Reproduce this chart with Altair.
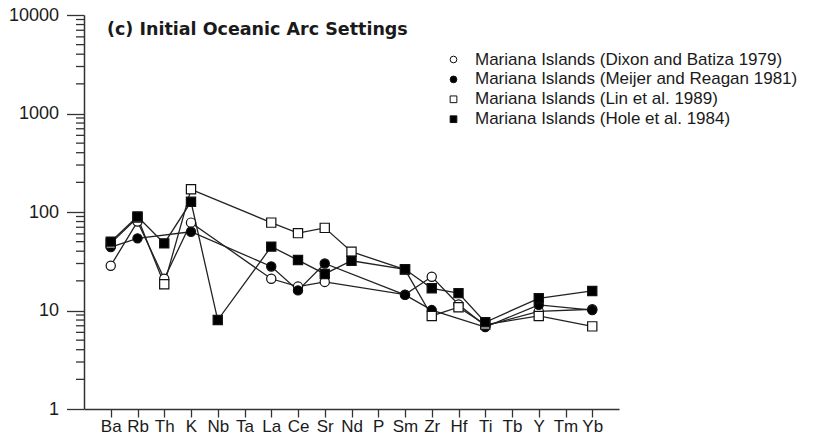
import altair as alt
import pandas as pd

# Trace elements in plotting order (incompatible -> compatible)
elements = ["Ba", "Rb", "Th", "K", "Nb", "Ta", "La", "Ce", "Sr", "Nd",
            "P", "Sm", "Zr", "Hf", "Ti", "Tb", "Y", "Tm", "Yb"]

series_names = [
    "Mariana Islands (Dixon and Batiza 1979)",
    "Mariana Islands (Meijer and Reagan 1981)",
    "Mariana Islands (Lin et al. 1989)",
    "Mariana Islands (Hole et al. 1984)",
]
series_shapes = ["circle", "circle", "square", "square"]
series_fills = ["white", "black", "white", "black"]

N = None
# MORB-normalised abundances (None = not analysed)
dixon = [28.5, 80, 21, 78, N, N, 21, 17.5, 19.5, N, N, 14.5, 22, 11.5, 7.0, N, 9.8, N, 10.3]
meijer = [44, 54, N, 63, N, N, 28, 16, 30, N, N, 14.4, 10.1, N, 6.8, N, 11.4, N, 10.1]
lin = [48, 88, 18.5, 170, N, N, 78, 61, 69, 39.5, N, 26, 8.8, 10.8, 7.2, N, 8.8, N, 6.9]
hole = [50, 90, 48, 127, 8, N, 44.5, 32.5, 23.5, 32, N, 26.2, 16.8, 15, 7.6, N, 13.3, N, 15.8]

title_text = "(c) Initial Oceanic Arc Settings"

rows = []
for name, vals in zip(series_names, [dixon, meijer, lin, hole]):
    for i, (el, v) in enumerate(zip(elements, vals)):
        if v is not None:
            rows.append({"series": name, "element": el, "idx": i, "value": v})
df = pd.DataFrame(rows)

# log axis: labelled decades with long ticks, short minor ticks in between
decades = [1, 10, 100, 1000, 10000]
minor_ticks = [m * 10 ** k for k in range(4) for m in range(2, 10)]

FONT = "Liberation Sans"
INK = "#1a1a1a"
AXIS_INK = "#333"

# the view starts 8 px left of the y axis line so the minor ticks sit inside it
GUTTER = 8
PLOT_W = 535

x_enc = alt.X(
    "element:N",
    scale=alt.Scale(domain=elements, type="point", padding=1,
                    range=[GUTTER, GUTTER + PLOT_W]),
    axis=alt.Axis(
        title=None, labelAngle=0, labelFont=FONT, labelFontSize=17,
        labelColor=INK, labelOverlap=False, labelPadding=1,
        tickSize=8, tickWidth=1.3, tickColor=AXIS_INK,
        domainColor=AXIS_INK, domainWidth=1.5, grid=False,
    ),
)


def log_scale():
    return alt.Scale(type="log", domain=[1, 10000])


y_axis = alt.Axis(
    title=None, values=decades, orient="left", format="d", offset=-GUTTER,
    labelFont=FONT, labelFontSize=18, labelColor=INK,
    labelOverlap=False, labelPadding=8, labelFlush=False,
    tickSize=17.5, tickWidth=1.3, tickColor=AXIS_INK,
    domainColor=AXIS_INK, domainWidth=1.5, grid=False,
)

legend = alt.Legend(
    title=None, orient="none", legendX=361 + GUTTER, legendY=36, padding=0,
    labelFont=FONT, labelFontSize=17, labelColor=INK, labelLimit=500,
    labelOffset=13, symbolSize=45, symbolStrokeWidth=1, rowPadding=1.9,
)

# short minor ticks of the log axis, between the view edge and the axis line
minor = alt.Chart(pd.DataFrame({"tick": minor_ticks})).mark_rule(
    color=AXIS_INK, strokeWidth=1.3
).encode(
    y=alt.Y("tick:Q", scale=log_scale(), axis=None),
    x=alt.value(0), x2=alt.value(GUTTER),
)

lines = alt.Chart(df).mark_line(color="#222", strokeWidth=1.3).encode(
    x=x_enc,
    y=alt.Y("value:Q", scale=log_scale(), axis=y_axis),
    detail="series:N", order="idx:Q",
)

points = alt.Chart(df).mark_point(
    filled=True, size=85, strokeWidth=1.2, opacity=1
).encode(
    x=x_enc,
    y=alt.Y("value:Q", scale=log_scale(), axis=None),
    shape=alt.Shape("series:N", scale=alt.Scale(domain=series_names, range=series_shapes), legend=legend),
    fill=alt.Fill("series:N", scale=alt.Scale(domain=series_names, range=series_fills), legend=legend),
    stroke=alt.Stroke("series:N", scale=alt.Scale(domain=series_names, range=["#111"] * 4), legend=legend),
)

title = alt.Chart(pd.DataFrame({"t": [title_text]})).mark_text(
    align="left", baseline="middle", font="DejaVu Sans", fontWeight="bold",
    fontSize=17.5, color=INK,
).encode(text="t:N", x=alt.value(23 + GUTTER), y=alt.value(15))

chart = alt.layer(minor, lines, points, title).resolve_scale(
    y="independent"
).properties(
    width=PLOT_W + GUTTER, height=394,
    autosize=alt.AutoSizeParams(type="none"),
    padding={"left": 84 - GUTTER, "top": 15, "right": 198, "bottom": 38},
    background="white",
).configure_view(strokeWidth=0)

chart.save("out.html", embed_options={"renderer": "svg", "actions": False})
